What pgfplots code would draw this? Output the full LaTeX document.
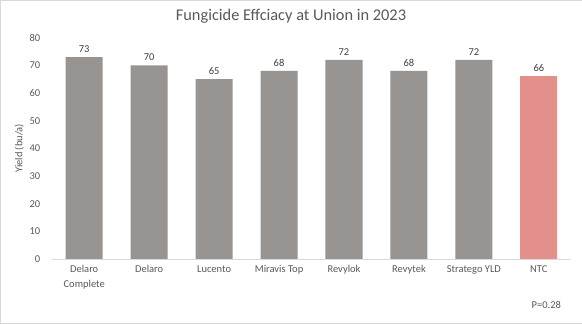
\documentclass[border=0pt]{standalone}
\usepackage{pgfplots}
\pgfplotsset{compat=1.18}
\usepackage{fontspec}
\setmainfont{Carlito}
\definecolor{barg}{HTML}{989492}
\definecolor{bars}{HTML}{E4908A}
\definecolor{txt}{HTML}{595959}
\definecolor{lbl}{HTML}{404040}
\definecolor{bord}{HTML}{D9D9D9}
\begin{document}
\begin{tikzpicture}[x=1bp,y=1bp]
\draw[color=bord, fill=white] (0.5,0.5) rectangle (581.5,323.5);
\node[text=txt, font=\fontsize{16.4}{19}\selectfont] at (291,307) {Fungicide Effciacy at Union in 2023};
\node[text=txt, font=\fontsize{10.5}{12}\selectfont] at (546,19) {P=0.28};
\begin{axis}[
  at={(52bp,65bp)}, anchor=south west,
  width=519bp, height=221bp, scale only axis,
  xmin=-0.5, xmax=7.5, ymin=0, ymax=80,
  ytick={0,10,...,80},
  xtick={0,...,7},
  xticklabels={{Delaro\\Complete},Delaro,Lucento,Miravis Top,Revylok,Revytek,Stratego YLD,NTC},
  xticklabel style={align=center, font=\fontsize{10.5}{14.5}\selectfont, text=txt, yshift=-3bp},
  yticklabel style={font=\fontsize{10.5}{12}\selectfont, text=txt, xshift=-8bp},
  axis x line*=bottom, axis y line*=left,
  y axis line style={draw=none},
  x axis line style={color=bord, line width=0.8pt, -},
  major tick length=0,
  ybar, bar width=37bp,
  nodes near coords,
  every node near coord/.append style={font=\fontsize{10.5}{12}\selectfont, text=lbl, yshift=1bp},
  /pgf/number format/assume math mode=true,
  ylabel={Yield (bu/a)},
  ylabel style={font=\fontsize{10.5}{12}\selectfont, text=txt},
  ylabel shift=-1bp,
  clip=false,
]
\addplot[fill=barg, draw=none, bar shift=0pt] coordinates {(0,73) (1,70) (2,65) (3,68) (4,72) (5,68) (6,72)};
\addplot[fill=bars, draw=none, bar shift=0pt] coordinates {(7,66)};
\end{axis}
\end{tikzpicture}
\end{document}
